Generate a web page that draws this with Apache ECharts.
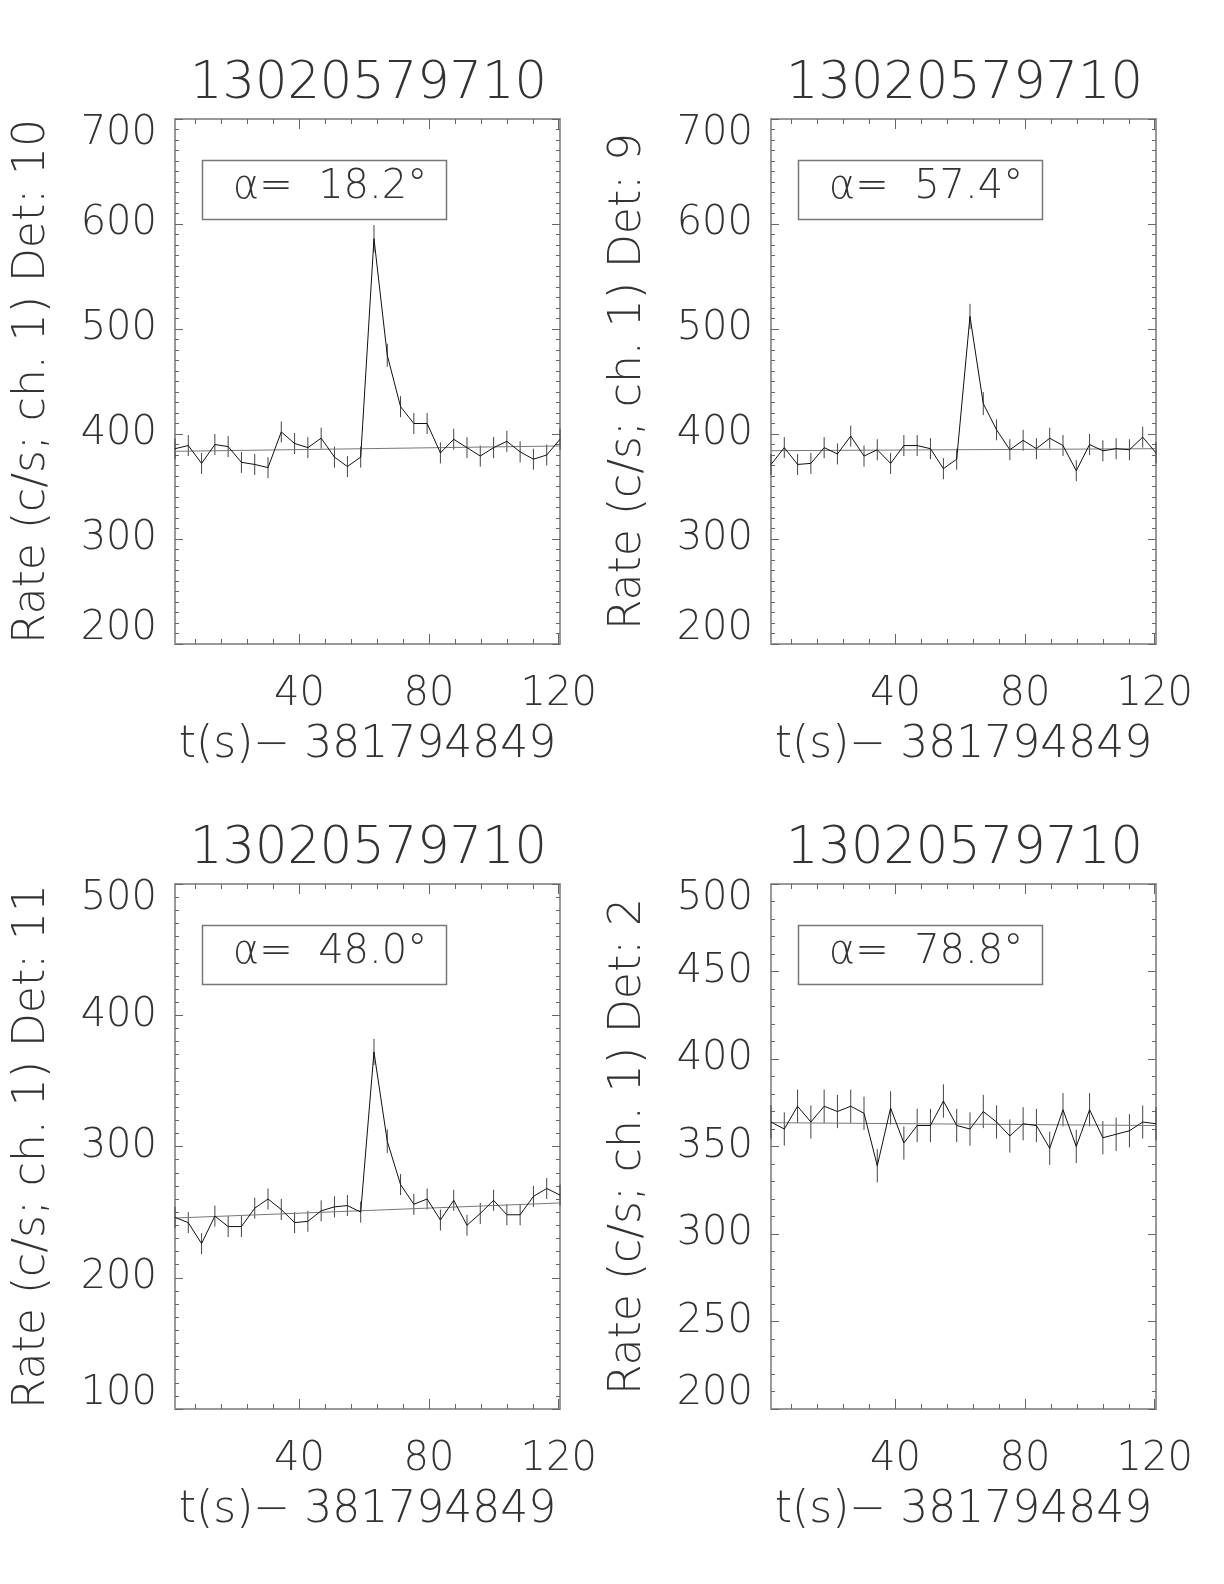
<!DOCTYPE html>
<html>
<head>
<meta charset="utf-8">
<title>13020579710</title>
<script src="https://cdn.jsdelivr.net/npm/echarts@6/dist/echarts.min.js"></script>
<style>
  html, body { margin: 0; padding: 0; background: #fff; }
  #chart { width: 1224px; height: 1584px; }
</style>
</head>
<body>
<div id="chart"></div>
<script>
// time of each 4.096 s bin, seconds after 381794849
const timeBins = [1.6, 5.7, 9.8, 13.9, 18.0, 22.1, 26.2, 30.3, 34.4, 38.5,
  42.6, 46.7, 50.8, 54.8, 58.9, 63.0, 67.1, 71.2, 75.3, 79.4,
  83.5, 87.6, 91.7, 95.8, 99.9, 104.0, 108.1, 112.2, 116.3, 120.4]
const timeRange = [1.6, 120.4]

// rates (c/s, ch. 1) per detector and their 1 sigma errors
const rateDet10 = [386, 389, 372, 390, 388, 373, 371, 368, 402, 391, 387, 396, 378, 369, 378,
  586, 475, 426, 410, 410, 382, 395, 387, 379, 387, 393, 383, 376, 380, 395]
const errDet10 = [10, 10, 10, 10, 10, 10, 10, 10, 10, 10, 10, 10, 10, 10, 10,
  13, 11, 10, 10, 10, 10, 10, 10, 10, 10, 10, 10, 10, 10, 10]
const rateDet9 = [371, 387, 371, 372, 387, 381, 398, 379, 385, 372, 389, 389, 386, 367, 376,
  512, 429, 404, 385, 394, 386, 396, 389, 365, 390, 384, 386, 385, 397, 382]
const errDet9 = [10, 10, 10, 10, 10, 10, 10, 10, 10, 10, 10, 10, 10, 10, 10,
  12, 11, 10, 10, 10, 10, 10, 10, 10, 10, 10, 10, 10, 10, 10]
const rateDet11 = [246, 242, 226, 247, 239, 239, 253, 260, 252, 242, 243, 251, 254, 255, 250,
  372, 304, 271, 256, 260, 244, 259, 240, 249, 259, 248, 248, 262, 268, 263]
const errDet11 = [8, 8, 8, 8, 8, 8, 8, 8, 8, 8, 8, 8, 8, 8, 8,
  10, 9, 8, 8, 8, 8, 8, 8, 8, 8, 8, 8, 8, 8, 8]
const rateDet2 = [364, 360, 373, 364, 373, 370, 373, 369, 339, 372, 352, 362, 362, 376, 362,
  360, 370, 364, 356, 363, 362, 349, 371, 350, 371, 355, 357, 359, 364, 363]
const errDet2 = [9.5, 9.5, 9.5, 9.5, 9.5, 9.5, 9.5, 9.5, 9.5, 9.5, 9.5, 9.5, 9.5, 9.5, 9.5,
  9.5, 9.5, 9.5, 9.5, 9.5, 9.5, 9.5, 9.5, 9.5, 9.5, 9.5, 9.5, 9.5, 9.5, 9.5]

// background fit, value at start and end of the time range
const bgDet10 = [383.5, 388.6]
const bgDet9 = [384.1, 386.0]
const bgDet11 = [245.5, 257.0]
const bgDet2 = [363.6, 362.0]

const detNames = ['10', '9', '11', '2']
const alphaAngles = ['18.2', '57.4', '48.0', '78.8']
const burstName = '13020579710'
const timeName = 't(s)\u2212 381794849'

// axis ranges and tick labels
const yRanges = [[200, 700], [200, 700], [100, 500], [200, 500]]
const yLabelSteps = [100, 100, 100, 50]
const yMinorSplits = [10, 10, 10, 5]
const xMajorTicks = [40, 80, 120]
const xMinorTicks = [8, 16, 24, 32, 48, 56, 64, 72, 88, 96, 104, 112]

const rates = [rateDet10, rateDet9, rateDet11, rateDet2]
const errs = [errDet10, errDet9, errDet11, errDet2]
const bgs = [bgDet10, bgDet9, bgDet11, bgDet2]

// layout
const gridPos = [[175, 119], [771, 119], [175, 884], [771, 884]]
const gridW = 385
const gridH = 525
const FONT = 'DejaVu Sans'
const TXT = '#333'
const AXIS = '#999'
const TICK = '#666'

const chartInstance = echarts.init(document.getElementById('chart'), null, { renderer: 'canvas' })

const grids = [], xAxes = [], yAxes = [], series = [], titles = [], graphics = []

gridPos.forEach((pos, i) => {
  grids.push({ left: pos[0], top: pos[1], width: gridW, height: gridH, containLabel: false })

  const xBase = { gridIndex: i, type: 'value', min: timeRange[0], max: timeRange[1], splitLine: { show: false } }
  // bottom, major ticks + labels
  xAxes.push(Object.assign({}, xBase, {
    position: 'bottom',
    axisLine: { show: true, onZero: false, lineStyle: { color: AXIS, width: 2 } },
    axisTick: { show: true, inside: true, length: 10, customValues: xMajorTicks, lineStyle: { color: TICK } },
    axisLabel: { customValues: xMajorTicks, margin: 31, fontSize: 40, fontFamily: FONT, fontWeight: 200, color: TXT },
    name: timeName, nameLocation: 'middle', nameGap: 80,
    nameTextStyle: { fontSize: 44, fontFamily: FONT, fontWeight: 200, color: TXT }
  }))
  // bottom, minor ticks
  xAxes.push(Object.assign({}, xBase, {
    position: 'bottom',
    axisLine: { show: false, onZero: false },
    axisTick: { show: true, inside: true, length: 5, customValues: xMinorTicks, lineStyle: { color: TICK } },
    axisLabel: { show: false }
  }))
  // top, major
  xAxes.push(Object.assign({}, xBase, {
    position: 'top',
    axisLine: { show: true, onZero: false, lineStyle: { color: AXIS, width: 2 } },
    axisTick: { show: true, inside: true, length: 10, customValues: xMajorTicks, lineStyle: { color: TICK } },
    axisLabel: { show: false }
  }))
  // top, minor
  xAxes.push(Object.assign({}, xBase, {
    position: 'top',
    axisLine: { show: false, onZero: false },
    axisTick: { show: true, inside: true, length: 5, customValues: xMinorTicks, lineStyle: { color: TICK } },
    axisLabel: { show: false }
  }))

  const yBase = {
    gridIndex: i, type: 'value', min: yRanges[i][0], max: yRanges[i][1], interval: yLabelSteps[i],
    splitLine: { show: false },
    axisLine: { show: true, onZero: false, lineStyle: { color: AXIS, width: 2 } },
    axisTick: { show: true, inside: true, length: 8, lineStyle: { color: TICK } },
    minorTick: { show: true, splitNumber: yMinorSplits[i], length: 4, lineStyle: { color: TICK } },
    minorSplitLine: { show: false }
  }
  yAxes.push(Object.assign({}, yBase, {
    position: 'left',
    axisLabel: {
      margin: 18, fontSize: 40, lineHeight: 30, fontFamily: FONT, fontWeight: 200, color: TXT,
      verticalAlignMaxLabel: 'top', verticalAlignMinLabel: 'bottom'
    },
    name: 'Rate (c/s; ch. 1) Det: ' + detNames[i], nameLocation: 'middle', nameRotate: 90, nameGap: 120,
    nameTextStyle: { fontSize: 44, fontFamily: FONT, fontWeight: 200, color: TXT }
  }))
  yAxes.push(Object.assign({}, yBase, {
    position: 'right',
    axisLabel: { show: false }
  }))

  const ax = i * 4, ay = i * 2
  // background fit
  series.push({
    type: 'line', xAxisIndex: ax, yAxisIndex: ay, silent: true, symbol: 'none',
    lineStyle: { color: '#777', width: 1 },
    data: [[timeRange[0], bgs[i][0]], [timeRange[1], bgs[i][1]]]
  })
  // light curve
  series.push({
    type: 'line', xAxisIndex: ax, yAxisIndex: ay, silent: true, symbol: 'none',
    lineStyle: { color: '#111', width: 1 },
    data: timeBins.map((t, k) => [t, rates[i][k]])
  })
  // error bars
  series.push({
    type: 'custom', xAxisIndex: ax, yAxisIndex: ay, silent: true,
    data: timeBins.map((t, k) => [t, rates[i][k] - errs[i][k], rates[i][k] + errs[i][k]]),
    renderItem: (params, api) => {
      const p1 = api.coord([api.value(0), api.value(1)])
      const p2 = api.coord([api.value(0), api.value(2)])
      return {
        type: 'line',
        shape: { x1: p1[0], y1: p1[1], x2: p2[0], y2: p2[1] },
        style: { stroke: '#444', lineWidth: 1 }
      }
    }
  })

  titles.push({
    text: burstName, left: pos[0] + gridW / 2 - 4, top: pos[1] - 65, textAlign: 'center',
    textStyle: { fontSize: 51, fontFamily: FONT, fontWeight: 200, color: TXT }
  })

  // alpha box
  graphics.push({
    type: 'rect', left: pos[0] + 25, top: pos[1] + 39,
    shape: { width: 244, height: 59 },
    style: { fill: 'none', stroke: '#777', lineWidth: 1.5 }
  })
  graphics.push({
    type: 'text', x: pos[0] + 25 + 130, y: pos[1] + 39 + 30,
    style: {
      text: '\u03b1=  ' + alphaAngles[i] + '\u00b0',
      textAlign: 'center', textVerticalAlign: 'middle',
      fontSize: 40, fontFamily: FONT, fontWeight: 200, fill: TXT
    }
  })
})

const initOption = {
  backgroundColor: '#fff',
  animation: false,
  title: titles,
  grid: grids,
  xAxis: xAxes,
  yAxis: yAxes,
  series: series,
  graphic: graphics
}
chartInstance.setOption(initOption)
</script>
</body>
</html>
